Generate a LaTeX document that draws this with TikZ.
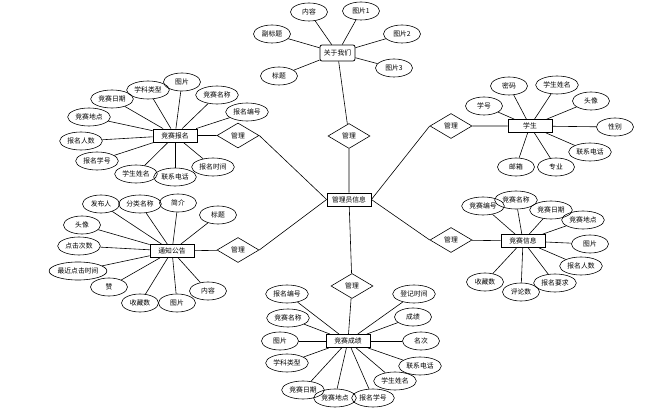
\documentclass[tikz,border=0pt]{standalone}
\usepackage{fontspec}
\setmainfont{Noto Sans CJK SC}
\usetikzlibrary{shapes.geometric}
\tikzset{
  entity/.style={draw, thick, rectangle, minimum width=44pt, minimum height=13pt, inner sep=1pt},
  attr/.style={draw, ellipse, line width=0.6pt, minimum width=37pt, minimum height=18pt, inner xsep=1.5pt, inner ysep=0pt},
  rel/.style={draw, diamond, line width=0.6pt, minimum width=42pt, minimum height=25pt, inner sep=0pt},
  conn/.style={line width=0.6pt}
}
\begin{document}
\begin{tikzpicture}[x=1pt,y=-1pt,font=\fontsize{6.8}{7.5}\selectfont]
  \useasboundingbox (0,0) rectangle (649,417);
  % 中心实体
  \node[entity] (admin) at (349,199.5) {管理员信息};
  % 关于我们
  \node[entity, rounded corners=2pt, minimum width=35pt, minimum height=16pt] (about) at (337.5,53) {关于我们};
  \node[rel] (rab) at (349,136) {管理};
  \node[attr] (ab1) at (309,12) {内容};
  \node[attr] (ab2) at (361,11) {图片1};
  \node[attr] (ab3) at (272,34) {副标题};
  \node[attr] (ab4) at (402,34) {图片2};
  \node[attr] (ab5) at (279,76) {标题};
  \node[attr] (ab6) at (394,68) {图片3};
  % 竞赛报名
  \node[entity] (enroll) at (175,135.5) {竞赛报名};
  \node[rel] (ren) at (238,135.5) {管理};
  \node[attr] (en1) at (112,99) {竞赛日期};
  \node[attr] (en2) at (148,90) {学科类型};
  \node[attr] (en3) at (182,82) {图片};
  \node[attr] (en4) at (217,95) {竞赛名称};
  \node[attr] (en5) at (247,112) {报名编号};
  \node[attr] (en6) at (89,117) {竞赛地点};
  \node[attr] (en7) at (81,141) {报名人数};
  \node[attr] (en8) at (97,161) {报名学号};
  \node[attr] (en9) at (136,174) {学生姓名};
  \node[attr] (en10) at (175,177) {联系电话};
  \node[attr] (en11) at (213,167) {报名时间};
  % 学生
  \node[entity] (stu) at (530,126) {学生};
  \node[rel] (rst) at (451,126) {管理};
  \node[attr] (st1) at (484,106) {学号};
  \node[attr] (st2) at (509,86) {密码};
  \node[attr] (st3) at (557,85) {学生姓名};
  \node[attr] (st4) at (591,101) {头像};
  \node[attr] (st5) at (615,127) {性别};
  \node[attr] (st6) at (590,152) {联系电话};
  \node[attr] (st7) at (556,167) {专业};
  \node[attr] (st8) at (516,167) {邮箱};
  % 通知公告
  \node[entity] (notice) at (172,251) {通知公告};
  \node[rel] (rno) at (238,250) {管理};
  \node[attr] (no1) at (101,204) {发布人};
  \node[attr] (no2) at (140,204) {分类名称};
  \node[attr] (no3) at (178,203) {简介};
  \node[attr] (no4) at (218,215) {标题};
  \node[attr] (no5) at (82,225) {头像};
  \node[attr] (no6) at (79,246) {点击次数};
  \node[attr, inner xsep=0pt] (no7) at (78,271) {最近点击时间};
  \node[attr] (no8) at (109,287) {赞};
  \node[attr] (no9) at (140,303) {收藏数};
  \node[attr] (no10) at (177,303) {图片};
  \node[attr] (no11) at (208,291) {内容};
  % 竞赛信息
  \node[entity] (info) at (523,241) {竞赛信息};
  \node[rel] (rin) at (451,240) {管理};
  \node[attr] (in1) at (483,206) {竞赛编号};
  \node[attr] (in2) at (516,200) {竞赛名称};
  \node[attr] (in3) at (551,210) {竞赛日期};
  \node[attr] (in4) at (583,220) {竞赛地点};
  \node[attr] (in5) at (590,244) {图片};
  \node[attr] (in6) at (581,266) {报名人数};
  \node[attr] (in7) at (555,283) {报名要求};
  \node[attr] (in8) at (521,292) {评论数};
  \node[attr] (in9) at (485,282) {收藏数};
  % 竞赛成绩
  \node[entity] (score) at (348,341) {竞赛成绩};
  \node[rel] (rsc) at (352,286) {管理};
  \node[attr] (sc1) at (287,294) {报名编号};
  \node[attr] (sc2) at (288,318) {竞赛名称};
  \node[attr] (sc3) at (280,341) {图片};
  \node[attr] (sc4) at (287,363) {学科类型};
  \node[attr] (sc5) at (303,390) {竞赛日期};
  \node[attr] (sc6) at (335,398) {竞赛地点};
  \node[attr] (sc7) at (373,398) {报名学号};
  \node[attr] (sc8) at (395,381) {学生姓名};
  \node[attr] (sc9) at (420,366) {联系电话};
  \node[attr] (sc10) at (421,341) {名次};
  \node[attr] (sc11) at (413,317) {成绩};
  \node[attr] (sc12) at (414,294) {登记时间};
  % 连线
  \draw[conn] (admin) -- (rab) -- (about);
  \draw[conn] (admin.west) -- (ren.east) (ren) -- (enroll);
  \draw[conn] (admin.east) -- (rst.west) (rst) -- (stu);
  \draw[conn] (admin.west) -- (rno.east) (rno) -- (notice);
  \draw[conn] (admin.east) -- (rin.west) (rin) -- (info);
  \draw[conn] (admin) -- (rsc) -- (score);
  \foreach \i in {1,...,6} \draw[conn] (ab\i) -- (about);
  \foreach \i in {1,...,11} \draw[conn] (en\i) -- (enroll);
  \foreach \i in {1,...,8} \draw[conn] (st\i) -- (stu);
  \foreach \i in {1,...,11} \draw[conn] (no\i) -- (notice);
  \foreach \i in {1,...,9} \draw[conn] (in\i) -- (info);
  \foreach \i in {1,...,12} \draw[conn] (sc\i) -- (score);
\end{tikzpicture}
\end{document}
